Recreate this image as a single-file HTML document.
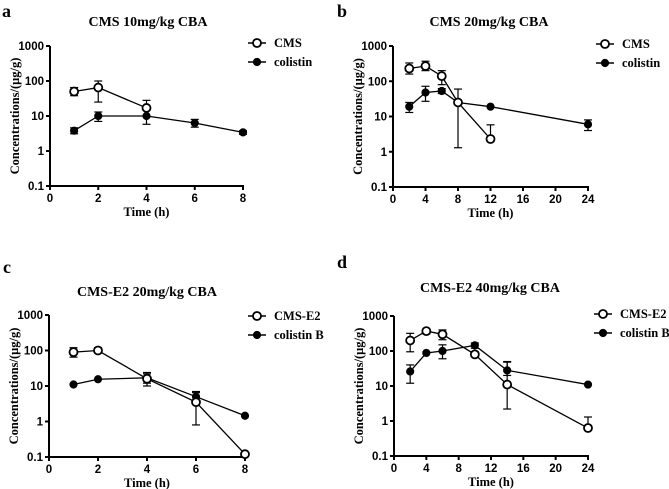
<!DOCTYPE html>
<html><head><meta charset="utf-8"><style>
body{margin:0;background:#fff}
svg{display:block}
.tk{font:bold 11.5px "Liberation Sans",sans-serif}
.ti{font:bold 14px "Liberation Serif",serif}
.ax{font:bold 12.5px "Liberation Serif",serif}
.lg{font:bold 12.5px "Liberation Serif",serif}
.pl{font:bold 18px "Liberation Serif",serif}
</style></head><body>
<svg id="fig" width="669" height="489"></svg>
<script>
// panel a
const aT1=[1,2,4], aV1=[50,65,17], aL1=[38,25,10], aH1=[65,100,28];
const aT2=[1,2,4,6,8], aV2=[3.8,10,10,6.3,3.4], aL2=[3.1,7,5.8,4.8,3], aH2=[4.6,13,15,8,3.8];
// panel b
const bT1=[2,4,6,8,12], bV1=[230,270,140,25,2.3], bL1=[160,200,80,1.3,2.3], bH1=[330,370,200,60,5.8];
const bT2=[2,4,6,8,12,24], bV2=[19,48,53,25,19,6], bL2=[13,27,45,25,19,4], bH2=[25,72,62,25,19,8];
// panel c
const cT1=[1,2,4,6,8], cV1=[90,100,16,3.5,0.12], cL1=[65,85,10,0.8,0.12], cH1=[120,120,22,6.5,0.12];
const cT2=[1,2,4,6,8], cV2=[11,15.5,17,5,1.45], cL2=[11,15.5,12,3.5,1.45], cH2=[11,15.5,24,7,1.45];
// panel d
const dT1=[2,4,6,10,14,24], dV1=[200,370,300,80,11,0.63], dL1=[95,310,210,70,2.2,0.63], dH1=[320,420,400,95,50,1.3];
const dT2=[2,4,6,10,14,24], dV2=[26,88,100,145,28,11], dL2=[12,88,60,120,20,11], dH2=[40,88,150,170,48,11];
const yTicks=[0.1,1,10,100,1000], yLabels=["0.1","1","10","100","1000"];
const xTicksA=[0,2,4,6,8], xTicksB=[0,4,8,12,16,20,24];

const NS="http://www.w3.org/2000/svg", svg=document.getElementById('fig');
function mk(tag,at,parent,txt){const e=document.createElementNS(NS,tag);for(const k in at)e.setAttribute(k,at[k]);if(txt!=null)e.textContent=txt;(parent||svg).appendChild(e);return e;}

const panels=[
 {id:'a',lab:'a',lx:2,ly:17,title:'CMS 10mg/kg CBA',tx:148,ty:26,x0:50,x1:243,y0:46,y1:186,xmax:8,xt:xTicksA,
  s:[{t:aT1,v:aV1,l:aL1,h:aH1,open:true,name:'CMS'},{t:aT2,v:aV2,l:aL2,h:aH2,open:false,name:'colistin'}],legX:257,legY:[43,62]},
 {id:'b',lab:'b',lx:337,ly:17,title:'CMS 20mg/kg CBA',tx:489,ty:26,x0:393,x1:588,y0:46,y1:187,xmax:24,xt:xTicksB,
  s:[{t:bT1,v:bV1,l:bL1,h:bH1,open:true,name:'CMS'},{t:bT2,v:bV2,l:bL2,h:bH2,open:false,name:'colistin'}],legX:605,legY:[44,63]},
 {id:'c',lab:'c',lx:3,ly:273,title:'CMS-E2 20mg/kg CBA',tx:147,ty:296,x0:49,x1:245,y0:315,y1:457,xmax:8,xt:xTicksA,
  s:[{t:cT1,v:cV1,l:cL1,h:cH1,open:true,name:'CMS-E2'},{t:cT2,v:cV2,l:cL2,h:cH2,open:false,name:'colistin B'}],legX:257,legY:[316,335]},
 {id:'d',lab:'d',lx:337,ly:268,title:'CMS-E2 40mg/kg CBA',tx:490,ty:292,x0:394,x1:588,y0:316,y1:456,xmax:24,xt:xTicksB,
  s:[{t:dT1,v:dV1,l:dL1,h:dH1,open:true,name:'CMS-E2'},{t:dT2,v:dV2,l:dL2,h:dH2,open:false,name:'colistin B'}],legX:603,legY:[314,333]}
];

panels.forEach(p=>{
 const g=mk('g',{});
 
 
 const X=t=>p.x0+(p.x1-p.x0)*t/p.xmax;
 const Y=v=>p.y1-(p.y1-p.y0)*(Math.log10(v)+1)/4;
 const pl=mk('text',{x:p.lx,y:p.ly,class:'pl'},g,p.lab);
 
 
 const ti=mk('text',{x:p.tx,y:p.ty,class:'ti','text-anchor':'middle'},g,p.title);
 
 
 const ya=mk('line',{x1:p.x0,y1:p.y0,x2:p.x0,y2:p.y1,stroke:'#000','stroke-width':2},g);
 
 
 const xa=mk('line',{x1:p.x0-1,y1:p.y1,x2:p.x1+1,y2:p.y1,stroke:'#000','stroke-width':2},g);
 
 
 yTicks.forEach((v,i)=>{
  mk('line',{x1:p.x0-4,y1:Y(v),x2:p.x0,y2:Y(v),stroke:'#000','stroke-width':2},g);
  const t=mk('text',{x:p.x0-6,y:Y(v)+4,class:'tk','text-anchor':'end'},g,yLabels[i]);
  
  
 });
 p.xt.forEach(v=>{
  mk('line',{x1:X(v),y1:p.y1,x2:X(v),y2:p.y1+4,stroke:'#000','stroke-width':2},g);
  const t=mk('text',{x:X(v),y:p.y1+16,class:'tk','text-anchor':'middle'},g,String(v));
  
  
 });
 const xt=mk('text',{x:(p.x0+p.x1)/2,y:p.y1+30,class:'ax','text-anchor':'middle'},g,'Time (h)');
 
 
 const yc=(p.y0+p.y1)/2, yx=p.x0-31;
 const yt=mk('text',{x:yx,y:yc,class:'ax','text-anchor':'middle',transform:`rotate(-90 ${yx} ${yc})`},g,'Concentrations/(μg/g)');
 
 
 [1,0].forEach(si=>{
  const s=p.s[si];
  const sg=mk('g',{},g);
  
  
  const pts=s.t.map((t,i)=>X(t)+','+Y(s.v[i])).join(' ');
  mk('polyline',{points:pts,fill:'none',stroke:'#000','stroke-width':1.3},sg);
  s.t.forEach((t,i)=>{
   const x=X(t);
   if(s.h[i]>s.l[i]){
    mk('line',{x1:x,y1:Y(s.l[i]),x2:x,y2:Y(s.h[i]),stroke:'#000','stroke-width':1.2},sg);
    [s.l[i],s.h[i]].forEach(v=>mk('line',{x1:x-4,y1:Y(v),x2:x+4,y2:Y(v),stroke:'#000','stroke-width':1.2},sg));
   }
   const c=mk('circle',{cx:x,cy:Y(s.v[i]),r:s.open?4:3.6,fill:s.open?'#fff':'#000',stroke:'#000','stroke-width':s.open?1.8:1},sg);
   
   
  });
 });
 p.s.forEach((s,i)=>{
  const lg=mk('g',{},g);
  
  
  const y=p.legY[i];
  mk('line',{x1:p.legX-9,y1:y,x2:p.legX+9,y2:y,stroke:'#000','stroke-width':1.5},lg);
  mk('circle',{cx:p.legX,cy:y,r:s.open?4:3.6,fill:s.open?'#fff':'#000',stroke:'#000','stroke-width':s.open?1.8:1},lg);
  mk('text',{x:p.legX+17,y:y+4,class:'lg'},lg,s.name);
 });
});
</script>
</body></html>
